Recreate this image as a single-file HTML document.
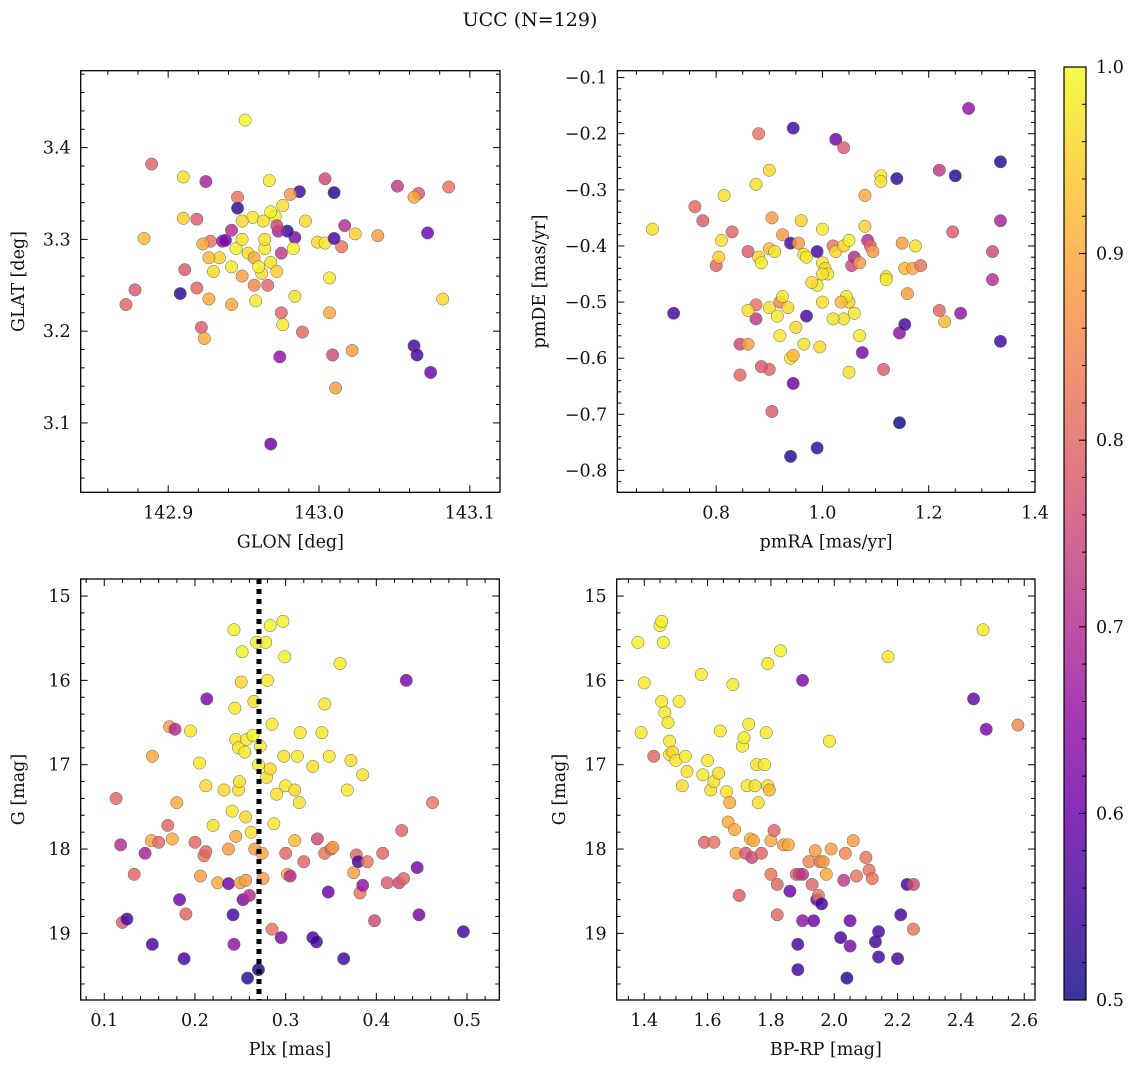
<!DOCTYPE html>
<html><head><meta charset="utf-8"><style>
html,body{margin:0;padding:0;background:#fff}
svg text{font-family:"DejaVu Serif","Liberation Serif",serif;fill:#111}
</style></head><body>
<svg id="fig" width="1136" height="1067" xmlns="http://www.w3.org/2000/svg">
<defs>
<linearGradient id="plasma" x1="0" y1="1" x2="0" y2="0">
<stop offset="0" stop-color="#0d0887"/><stop offset="0.1" stop-color="#41049d"/><stop offset="0.2" stop-color="#6a00a8"/><stop offset="0.3" stop-color="#8f0da4"/><stop offset="0.4" stop-color="#b12a90"/><stop offset="0.5" stop-color="#cc4778"/><stop offset="0.6" stop-color="#e16462"/><stop offset="0.7" stop-color="#f2844b"/><stop offset="0.8" stop-color="#fca636"/><stop offset="0.9" stop-color="#fcce25"/><stop offset="1" stop-color="#f0f921"/>
</linearGradient>
</defs>
<text x="530" y="26" font-size="19" text-anchor="middle">UCC (N=129)</text>
</svg>
<script>
// Panel 1: GLON / GLAT
const p1x=[142.951,142.889,142.910,142.925,142.967,143.004,143.052,143.066,143.086,143.063,143.010,142.987,142.981,142.946,142.946,142.976,142.910,142.919,142.884,142.956,142.963,142.971,142.991,143.017,143.072,143.039,143.024,143.015,142.999,143.004,142.984,142.979,142.973,142.928,142.936,142.938,142.908,142.872,142.878,142.911,142.919,142.927,142.942,142.958,142.962,142.966,142.984,143.007,143.007,142.976,142.975,142.989,142.922,142.924,142.974,143.009,143.022,143.011,142.968,143.063,143.065,143.074,143.082,143.010,142.934,142.942,142.945,142.949,142.953,142.957,142.960,142.964,142.968,142.972,142.975,142.949,142.957,142.942,142.964,142.927,142.930,142.968,142.983,142.949,142.923,142.972];
const p1y=[3.430,3.382,3.368,3.363,3.364,3.366,3.358,3.350,3.357,3.346,3.351,3.352,3.349,3.346,3.334,3.337,3.323,3.322,3.301,3.324,3.320,3.325,3.320,3.315,3.307,3.304,3.306,3.292,3.297,3.296,3.302,3.309,3.309,3.298,3.298,3.299,3.241,3.229,3.245,3.267,3.247,3.235,3.229,3.233,3.263,3.250,3.238,3.258,3.220,3.207,3.220,3.199,3.204,3.192,3.172,3.174,3.179,3.138,3.077,3.184,3.174,3.155,3.235,3.301,3.28,3.27,3.29,3.30,3.285,3.28,3.27,3.29,3.275,3.265,3.285,3.26,3.25,3.31,3.30,3.28,3.265,3.33,3.29,3.32,3.295,3.315];
const p1c=[1.0,0.8,0.97,0.68,0.98,0.75,0.72,0.78,0.82,0.9,0.52,0.55,0.88,0.82,0.53,0.97,0.95,0.78,0.92,0.98,0.97,0.99,0.96,0.7,0.6,0.88,0.95,0.82,0.96,0.98,0.62,0.53,0.68,0.82,0.65,0.62,0.52,0.8,0.78,0.78,0.8,0.9,0.9,0.98,0.97,0.8,0.97,0.98,0.9,0.98,0.8,0.8,0.78,0.9,0.65,0.75,0.88,0.88,0.6,0.55,0.55,0.6,0.96,0.55,0.95,0.98,0.99,0.97,0.96,0.9,0.99,0.98,0.97,0.95,0.72,0.88,0.85,0.7,0.97,0.92,0.96,0.99,0.99,0.96,0.9,0.75];
// Panel 2: pmRA / pmDE
const p2x=[0.68,0.72,0.76,0.775,0.80,0.805,0.81,0.815,0.83,0.88,0.875,0.90,0.905,0.86,0.88,0.885,0.90,0.91,0.925,0.94,0.955,0.96,0.965,0.97,0.99,1.0,1.0,1.005,1.01,1.02,1.025,1.04,1.05,1.055,1.06,1.07,1.08,1.085,1.09,1.095,1.08,1.11,1.11,1.14,1.12,1.12,1.15,1.155,1.17,1.175,1.185,1.16,1.145,1.155,1.145,1.115,1.075,1.07,1.06,1.05,1.045,1.035,1.04,1.05,1.02,1.0,0.995,0.99,1.0,0.98,0.97,0.965,0.95,0.94,0.945,0.945,0.94,0.99,0.905,0.9,0.885,0.845,0.845,0.86,0.875,0.875,0.86,0.9,0.915,0.92,0.935,0.925,0.92,0.945,1.025,1.04,1.275,1.335,1.25,1.22,1.245,1.22,1.26,1.23,1.32,1.32,1.335,1.335];
const p2y=[-0.37,-0.52,-0.33,-0.355,-0.435,-0.42,-0.39,-0.31,-0.375,-0.20,-0.29,-0.265,-0.35,-0.41,-0.42,-0.43,-0.405,-0.41,-0.38,-0.395,-0.395,-0.355,-0.415,-0.42,-0.41,-0.37,-0.43,-0.44,-0.45,-0.40,-0.41,-0.40,-0.39,-0.435,-0.42,-0.43,-0.365,-0.39,-0.40,-0.41,-0.31,-0.275,-0.285,-0.28,-0.455,-0.46,-0.395,-0.44,-0.44,-0.40,-0.435,-0.485,-0.555,-0.54,-0.715,-0.62,-0.59,-0.56,-0.52,-0.50,-0.49,-0.50,-0.53,-0.625,-0.53,-0.5,-0.58,-0.47,-0.45,-0.465,-0.525,-0.575,-0.545,-0.6,-0.595,-0.645,-0.775,-0.76,-0.695,-0.62,-0.615,-0.63,-0.575,-0.575,-0.53,-0.505,-0.515,-0.51,-0.525,-0.5,-0.51,-0.49,-0.56,-0.19,-0.21,-0.225,-0.155,-0.25,-0.275,-0.265,-0.375,-0.515,-0.52,-0.535,-0.41,-0.46,-0.355,-0.57];
const p2c=[0.97,0.55,0.8,0.78,0.8,0.95,0.97,0.97,0.8,0.82,0.97,0.96,0.88,0.78,0.96,0.98,0.92,0.97,0.88,0.55,0.88,0.95,0.97,0.98,0.55,0.98,0.98,0.96,0.97,0.82,0.96,0.95,0.99,0.75,0.7,0.88,0.95,0.7,0.8,0.88,0.9,0.98,0.97,0.53,0.96,0.98,0.88,0.92,0.9,0.97,0.82,0.88,0.65,0.55,0.5,0.78,0.62,0.98,0.98,0.95,0.98,0.92,0.97,0.97,0.97,0.97,0.96,0.98,0.97,0.96,0.55,0.97,0.96,0.98,0.92,0.6,0.52,0.53,0.78,0.8,0.78,0.8,0.75,0.88,0.72,0.82,0.97,0.97,0.98,0.85,0.96,0.98,0.98,0.55,0.6,0.78,0.65,0.52,0.52,0.72,0.78,0.8,0.65,0.92,0.75,0.7,0.68,0.55];
// Panel 3: Plx / G
const p3x=[0.113,0.118,0.12,0.125,0.133,0.145,0.153,0.153,0.152,0.16,0.17,0.172,0.175,0.178,0.18,0.183,0.188,0.19,0.195,0.2,0.205,0.206,0.21,0.212,0.212,0.213,0.22,0.225,0.232,0.237,0.237,0.241,0.242,0.243,0.243,0.244,0.245,0.245,0.248,0.248,0.249,0.25,0.251,0.252,0.253,0.255,0.256,0.256,0.257,0.258,0.26,0.262,0.264,0.265,0.266,0.268,0.27,0.27,0.272,0.274,0.275,0.278,0.279,0.28,0.283,0.283,0.285,0.285,0.287,0.29,0.295,0.297,0.298,0.299,0.3,0.3,0.302,0.305,0.31,0.31,0.313,0.315,0.316,0.32,0.33,0.33,0.334,0.335,0.34,0.343,0.343,0.347,0.348,0.35,0.352,0.36,0.364,0.368,0.372,0.375,0.378,0.38,0.382,0.385,0.385,0.39,0.398,0.407,0.412,0.425,0.428,0.43,0.433,0.445,0.447,0.462,0.496];
const p3y=[17.40,17.95,18.87,18.83,18.30,18.05,19.13,16.90,17.9,17.92,17.72,16.55,17.88,16.58,17.45,18.6,19.3,18.77,16.6,17.92,16.98,18.32,18.08,17.25,18.03,16.22,17.72,18.40,17.30,18.00,18.41,17.55,18.78,19.13,15.40,16.33,16.70,17.85,16.80,17.30,17.20,18.40,16.02,15.66,18.60,16.85,17.62,18.37,16.70,19.53,18.55,17.80,16.65,16.25,18.00,15.55,17.00,19.43,16.78,18.05,18.35,15.55,17.15,16.0,17.05,15.35,16.52,18.95,17.70,17.35,19.05,15.30,16.90,15.72,17.25,18.05,18.30,18.32,17.30,17.90,16.90,17.45,16.62,18.15,19.05,17.02,19.10,17.88,16.62,18.05,16.28,18.51,16.9,18.0,17.98,15.80,19.3,17.30,16.95,18.28,18.07,18.15,18.52,17.12,18.43,18.15,18.85,18.05,18.40,18.40,17.78,18.35,16.0,18.22,18.78,17.45,18.98];
const p3c=[0.8,0.7,0.78,0.55,0.8,0.68,0.55,0.9,0.9,0.8,0.8,0.88,0.9,0.7,0.9,0.6,0.55,0.8,0.98,0.8,0.98,0.88,0.82,0.96,0.8,0.62,0.97,0.9,0.96,0.88,0.6,0.98,0.55,0.65,0.99,0.98,0.98,0.9,0.98,0.97,0.97,0.88,0.96,0.99,0.62,0.98,0.96,0.88,0.98,0.52,0.7,0.97,0.99,0.97,0.88,0.99,0.99,0.5,0.98,0.9,0.88,0.99,0.97,0.98,0.96,0.99,0.98,0.82,0.98,0.97,0.62,0.99,0.97,0.99,0.98,0.8,0.9,0.7,0.96,0.92,0.98,0.97,0.98,0.8,0.55,0.97,0.55,0.75,0.98,0.82,0.98,0.6,0.98,0.8,0.88,0.98,0.55,0.98,0.97,0.88,0.8,0.55,0.82,0.97,0.65,0.82,0.75,0.8,0.78,0.75,0.8,0.8,0.62,0.62,0.62,0.82,0.55];
const plxCut=[0.2706];
// Panel 4: BP-RP / G
const p4x=[1.38,1.39,1.40,1.43,1.45,1.455,1.455,1.46,1.465,1.475,1.48,1.48,1.49,1.5,1.51,1.52,1.53,1.535,1.58,1.585,1.59,1.6,1.61,1.62,1.62,1.635,1.64,1.66,1.665,1.67,1.68,1.685,1.69,1.7,1.71,1.715,1.72,1.725,1.73,1.735,1.74,1.745,1.75,1.755,1.76,1.77,1.78,1.785,1.79,1.79,1.795,1.8,1.8,1.81,1.82,1.83,1.82,1.84,1.855,1.86,1.88,1.885,1.885,1.89,1.9,1.9,1.9,1.92,1.93,1.935,1.94,1.945,1.95,1.955,1.96,1.965,1.975,1.985,1.99,2.02,2.03,2.035,2.04,2.05,2.05,2.06,2.07,2.1,2.11,2.12,2.13,2.14,2.14,2.17,2.2,2.21,2.23,2.25,2.25,2.44,2.47,2.48,2.58];
const p4y=[15.55,16.62,16.03,16.90,15.35,15.3,16.25,15.55,16.38,16.5,16.72,16.88,16.85,16.95,16.25,17.25,16.9,17.08,15.93,17.12,17.92,16.95,17.3,17.2,17.92,17.10,16.6,17.32,17.68,17.45,16.05,17.77,18.05,18.55,16.78,16.68,18.05,17.25,16.52,17.88,18.1,17.9,17.25,17.0,17.45,18.05,17.0,16.62,17.25,15.8,17.3,17.9,18.3,17.78,18.78,15.65,18.42,17.95,17.95,18.5,18.3,19.13,19.43,18.3,18.3,16.0,18.85,18.15,18.42,18.85,18.02,18.6,18.55,18.15,18.65,18.15,18.3,16.72,18.0,19.05,18.37,18.05,19.53,18.85,19.15,17.9,18.32,18.1,18.25,18.35,19.1,18.98,19.28,15.72,19.3,18.78,18.42,18.42,18.95,16.22,15.4,16.58,16.53];
const p4c=[0.99,0.98,0.98,0.8,0.99,0.99,0.98,0.99,0.98,0.98,0.98,0.97,0.96,0.98,0.98,0.96,0.98,0.97,0.98,0.98,0.8,0.98,0.97,0.97,0.82,0.97,0.98,0.97,0.9,0.9,0.98,0.9,0.9,0.78,0.98,0.98,0.78,0.98,0.98,0.92,0.75,0.9,0.97,0.97,0.97,0.8,0.98,0.98,0.97,0.98,0.92,0.9,0.82,0.8,0.8,0.99,0.8,0.88,0.9,0.6,0.8,0.55,0.55,0.75,0.72,0.62,0.65,0.85,0.8,0.6,0.88,0.6,0.82,0.82,0.55,0.88,0.9,0.98,0.88,0.55,0.72,0.85,0.52,0.6,0.62,0.88,0.82,0.82,0.82,0.82,0.55,0.55,0.55,0.98,0.55,0.55,0.55,0.75,0.82,0.58,0.98,0.62,0.85];
const cbTicks=[0.5,0.6,0.7,0.8,0.9,1.0];

const NS='http://www.w3.org/2000/svg';
const svg=document.getElementById('fig');
function el(tag,attrs,parent){const e=document.createElementNS(NS,tag);for(const k in attrs)e.setAttribute(k,attrs[k]);(parent||svg).appendChild(e);return e;}
const stops=[[0,[13,8,135]],[0.1,[65,4,157]],[0.2,[106,0,168]],[0.3,[143,13,164]],[0.4,[177,42,144]],[0.5,[204,71,120]],[0.6,[225,100,98]],[0.7,[242,132,75]],[0.8,[252,166,54]],[0.9,[252,206,37]],[1,[240,249,33]]];
function plasma(v){let t=Math.max(0,Math.min(1,(v-0.5)/0.5));for(let i=0;i<stops.length-1;i++){const a=stops[i],b=stops[i+1];if(t<=b[0]){const f=(t-a[0])/(b[0]-a[0]);const c=a[1].map((x,j)=>Math.round(x+(b[1][j]-x)*f));return 'rgb('+c.join(',')+')';}}return 'rgb(240,249,33)';}
function fmt(v,d){let s=v.toFixed(d);if(s.startsWith('-'))s='\u2212'+s.slice(1);return s;}
const FS=17.5;

function panel(o){
  const g=el('g',{});
  
  
  const sx=v=>o.L+(v-o.x0)/(o.x1-o.x0)*(o.R-o.L);
  const sy=v=>o.B-(v-o.y0)/(o.y1-o.y0)*(o.B-o.T);
  for(let i=0;i<o.xs.length;i++){
    const c=el('circle',{cx:sx(o.xs[i]),cy:sy(o.ys[i]),r:6.2,fill:plasma(o.cs[i]),'fill-opacity':0.82,stroke:'#666','stroke-width':0.5},g);
    
    
  }
  if(o.vline){
    const ln=el('line',{x1:sx(o.vline[0]),x2:sx(o.vline[0]),y1:o.T,y2:o.B,stroke:'#000','stroke-width':5,'stroke-dasharray':'5,5'},g);
    
    
  }
  const eps=1e-9;
  const xlo=Math.min(o.x0,o.x1),xhi=Math.max(o.x0,o.x1),ylo=Math.min(o.y0,o.y1),yhi=Math.max(o.y0,o.y1);
  for(let k=Math.ceil(xlo/o.xmin-eps);k*o.xmin<=xhi+eps;k++){
    const v=k*o.xmin;
    const maj=Math.abs(v/o.xmaj-Math.round(v/o.xmaj))<1e-6;const len=maj?7:4;const X=sx(v);
    el('line',{x1:X,x2:X,y1:o.B,y2:o.B-len,stroke:'#000','stroke-width':1},g);
    el('line',{x1:X,x2:X,y1:o.T,y2:o.T+len,stroke:'#000','stroke-width':1},g);
    if(maj){const t=el('text',{x:X,y:o.B+26,'font-size':FS,'text-anchor':'middle'},g);t.textContent=fmt(v,o.xd);
      }
  }
  for(let k=Math.ceil(ylo/o.ymin-eps);k*o.ymin<=yhi+eps;k++){
    const v=k*o.ymin;
    const maj=Math.abs(v/o.ymaj-Math.round(v/o.ymaj))<1e-6;const len=maj?7:4;const Y=sy(v);
    el('line',{x1:o.L,x2:o.L+len,y1:Y,y2:Y,stroke:'#000','stroke-width':1},g);
    el('line',{x1:o.R,x2:o.R-len,y1:Y,y2:Y,stroke:'#000','stroke-width':1},g);
    if(maj){const t=el('text',{x:o.L-10,y:Y+6,'font-size':FS,'text-anchor':'end'},g);t.textContent=fmt(v,o.yd);
      }
  }
  el('rect',{x:o.L,y:o.T,width:o.R-o.L,height:o.B-o.T,fill:'none',stroke:'#000','stroke-width':1.3},g);
  const xl=el('text',{x:(o.L+o.R)/2,y:o.B+55,'font-size':FS,'text-anchor':'middle'},g);xl.textContent=o.xlab;
  
  const yx=o.ylx,yy=(o.T+o.B)/2;
  const yl=el('text',{x:yx,y:yy,'font-size':FS,'text-anchor':'middle',transform:`rotate(-90 ${yx} ${yy})`},g);yl.textContent=o.ylab;
  
}
panel({name:'glon-glat-panel',xs:p1x,ys:p1y,cs:p1c,L:80.7,R:500,T:70.7,B:492.3,x0:142.842,x1:143.120,y0:3.0244,y1:3.4838,xmaj:0.1,xmin:0.02,ymaj:0.1,ymin:0.02,xd:1,yd:1,xlab:'GLON [deg]',ylab:'GLAT [deg]',ylx:24});
panel({name:'pmra-pmde-panel',xs:p2x,ys:p2y,cs:p2c,L:617.3,R:1035,T:70.7,B:492.3,x0:0.614,x1:1.4,y0:-0.839,y1:-0.0877,xmaj:0.2,xmin:0.05,ymaj:0.1,ymin:0.02,xd:1,yd:1,xlab:'pmRA [mas/yr]',ylab:'pmDE [mas/yr]',ylx:545});
panel({name:'plx-g-panel',xs:p3x,ys:p3y,cs:p3c,vline:plxCut,L:80.7,R:499.3,T:579,B:1000,x0:0.074,x1:0.5356,y0:19.79,y1:14.798,xmaj:0.1,xmin:0.02,ymaj:1,ymin:0.2,xd:1,yd:0,xlab:'Plx [mas]',ylab:'G [mag]',ylx:24});
panel({name:'bprp-g-panel',xs:p4x,ys:p4y,cs:p4c,L:616.7,R:1035,T:579,B:1000,x0:1.313,x1:2.634,y0:19.79,y1:14.798,xmaj:0.2,xmin:0.05,ymaj:1,ymin:0.2,xd:1,yd:0,xlab:'BP-RP [mag]',ylab:'G [mag]',ylx:565});

const cb=el('g',{});


const cT=67,cB=1000,cL=1064,cR=1086;
el('rect',{x:cL,y:cT,width:cR-cL,height:cB-cT,fill:'url(#plasma)','fill-opacity':0.82},cb);
const cy=v=>cB-(v-0.5)/0.5*(cB-cT);
for(let k=25;k<=50;k++){
  const v=k*0.02;const maj=(k%5===0);const Y=cy(v);
  el('line',{x1:cR,x2:cR-(maj?7:4),y1:Y,y2:Y,stroke:'#000','stroke-width':1},cb);
}
cbTicks.forEach(v=>{
  const t=el('text',{x:cR+10,y:cy(v)+6,'font-size':FS},cb);t.textContent=v.toFixed(1);
  
  
});
el('rect',{x:cL,y:cT,width:cR-cL,height:cB-cT,fill:'none',stroke:'#000','stroke-width':1.2},cb);
</script>
</body></html>
